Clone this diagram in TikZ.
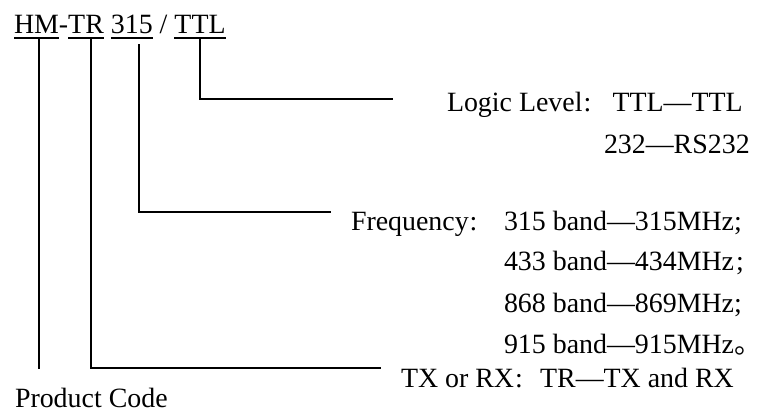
\documentclass[tikz,border=0pt]{standalone}
\usepackage{fontspec}
\setmainfont{Liberation Serif}
\newfontfamily\cjk{Noto Sans CJK SC}
\newcommand{\fwcolon}[1]{\makebox[#1][l]{\kern1bp:}}
\begin{document}
\begin{tikzpicture}[x=1bp,y=-1bp,
  txt/.style={inner sep=0pt,outer sep=0pt,anchor=base west,font=\fontsize{28}{34}\selectfont},
  ln/.style={line width=1.3bp,line cap=rect},
  ul/.style={line width=1.3bp}]
\useasboundingbox (0,0) rectangle (757,412);
% title
\node[txt] (hm) at (14,33) {HM};
\node[txt] (hy) at (hm.base east) {-};
\node[txt] (tr) at (hy.base east) {TR};
\node[txt] (n315) at ([xshift=7bp]tr.base east) {315};
\node[txt] (sl) at ([xshift=7bp]n315.base east) {/};
\node[txt] (ttl) at ([xshift=7bp]sl.base east) {TTL};
\foreach \n in {hm,tr,n315,ttl}
  \draw[ul] ([yshift=-5bp]\n.base west) -- ([yshift=-5bp]\n.base east);
% labels
\node[txt] (logic) at (447,111) {Logic Level\fwcolon{30bp}TTL—TTL};
\node[txt] (l232) at (604,153) {232—RS232};
\node[txt] (freq) at (351,230) {Frequency\fwcolon{35bp}};
\node[txt] (b315) at (504,230) {315 band—315MHz;};
\node[txt] (b433) at (504,270) {433 band—434MHz\kern2bp;};
\node[txt] (b868) at (504,312) {868 band—869MHz;};
\node[txt] (b915) at (504,353) {915 band—915MHz\makebox[8bp][l]{\cjk 。}};
\node[txt] (tx) at (401,387) {TX or RX\fwcolon{26bp}TR—TX and RX};
\node[txt] (pc) at (15,407) {Product Code};
% connector corners
\coordinate (uy) at (0,38);
\coordinate (vhm) at (39,368);
\coordinate (ctr) at (91,368);
\coordinate (etr) at (380,368);
\coordinate (s315) at (139,45);
\coordinate (c315) at (139,212);
\coordinate (e315) at (330,212);
\coordinate (cttl) at (200,99);
\coordinate (ettl) at (392,99);
% connectors
\draw[ln] (uy -| vhm) -- (vhm);
\draw[ln] (uy -| ctr) -- (ctr) -- (etr);
\draw[ln] (s315) -- (c315) -- (e315);
\draw[ln] (uy -| cttl) -- (cttl) -- (ettl);
\end{tikzpicture}
\end{document}
